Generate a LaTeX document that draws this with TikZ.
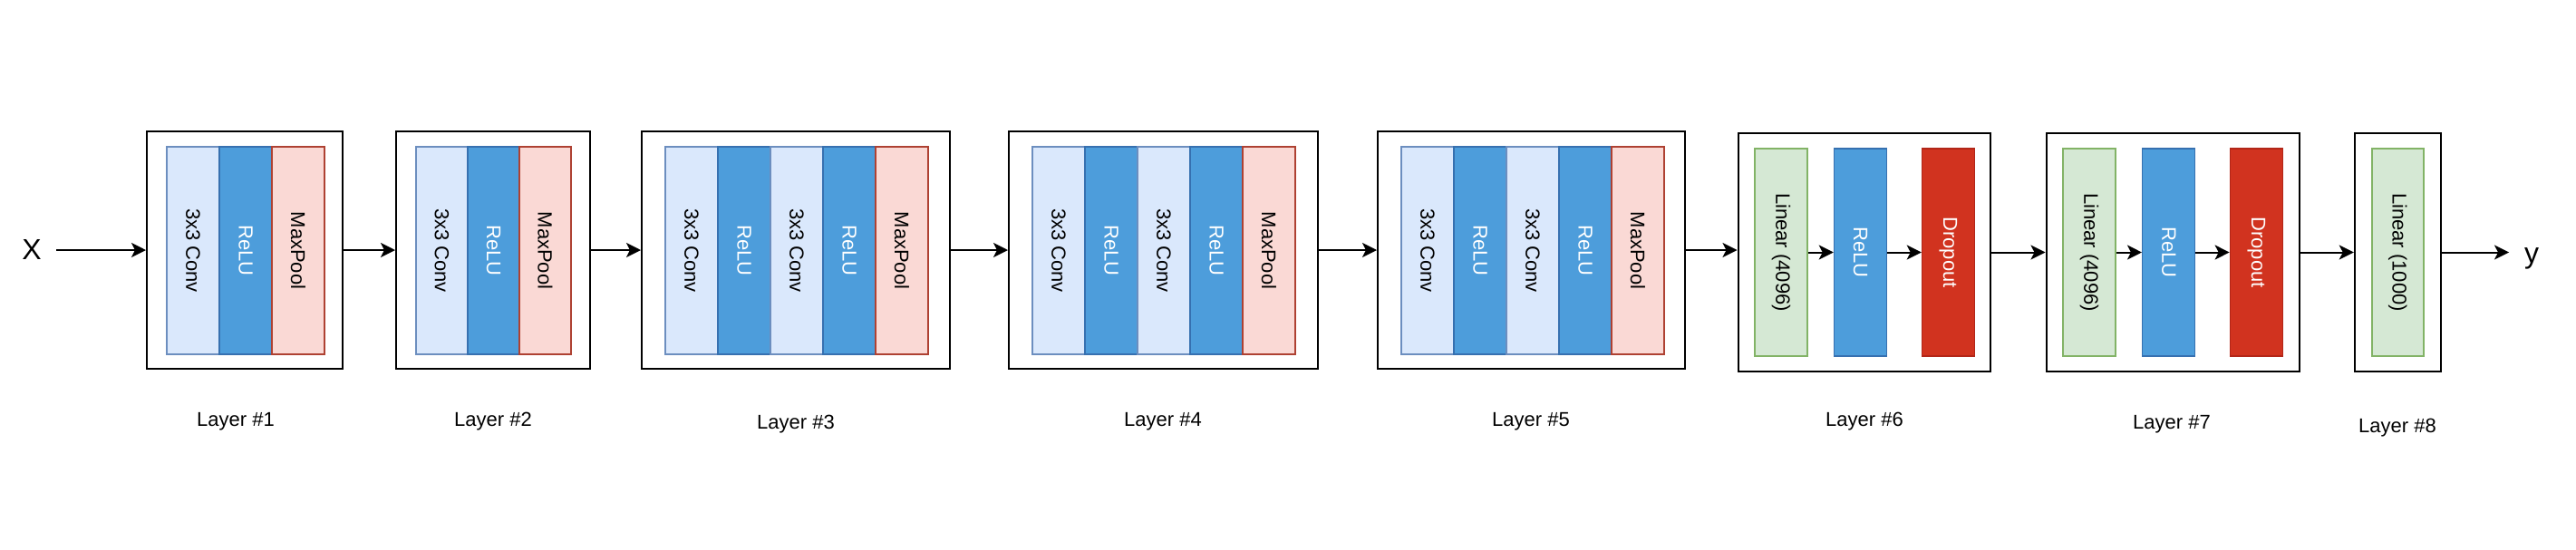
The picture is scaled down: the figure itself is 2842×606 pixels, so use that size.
\documentclass[tikz,border=0pt]{standalone}
\usepackage{fontspec}
\setmainfont{Liberation Sans}
\usetikzlibrary{arrows.meta}
\definecolor{convfill}{HTML}{DAE8FC}
\definecolor{convdraw}{HTML}{6C8EBF}
\definecolor{relufill}{HTML}{4D9DDB}
\definecolor{reludraw}{HTML}{3670B0}
\definecolor{poolfill}{HTML}{FAD9D5}
\definecolor{pooldraw}{HTML}{AE4132}
\definecolor{linfill}{HTML}{D5E8D4}
\definecolor{lindraw}{HTML}{82B366}
\definecolor{dropfill}{HTML}{D1331F}
\definecolor{dropdraw}{HTML}{B22618}
\begin{document}
\begin{tikzpicture}[x=1pt,y=-1pt,
  box/.style={draw=black, line width=2pt, fill=white, minimum width=#1, minimum height=262pt, inner sep=0pt},
  strip/.style={rotate=-90, minimum width=229pt, minimum height=58pt, inner sep=0pt, line width=1.5pt, font=\fontsize{22}{26}\selectfont},
  conv/.style={strip, fill=convfill, draw=convdraw},
  relu/.style={strip, fill=relufill, draw=reludraw, text=white},
  pool/.style={strip, fill=poolfill, draw=pooldraw},
  lin/.style={strip, fill=linfill, draw=lindraw},
  drop/.style={strip, fill=dropfill, draw=dropdraw, text=white},
  lbl/.style={font=\fontsize{22}{26}\selectfont, inner sep=0pt},
  io/.style={font=\fontsize{32}{38}\selectfont, inner sep=0pt},
  arr/.style={line width=2pt, -{Stealth[length=16pt, width=16pt, inset=4pt]}}
]
\path[fill=white] (0,0) rectangle (2842,606);

% Layer 1
\node[box=216pt] (L1) at (270,276) {};
\node[conv] (l1a) at (213,276.5) {3x3 Conv};
\node[relu] (l1b) at (271,276.5) {ReLU};
\node[pool] (l1c) at (329,276.5) {MaxPool};
\node[lbl] (t1) at (260,465) {Layer \#1};

% Layer 2
\node[box=214pt] (L2) at (544,276) {};
\node[conv, minimum height=57pt] (l2a) at (487.5,276.5) {3x3 Conv};
\node[relu, minimum height=57pt] (l2b) at (544.5,276.5) {ReLU};
\node[pool, minimum height=57pt] (l2c) at (601.5,276.5) {MaxPool};
\node[lbl] (t2) at (544,465) {Layer \#2};

% Layer 3
\node[box=340pt] (L3) at (878,276) {};
\node[conv] (l3a) at (763,276.5) {3x3 Conv};
\node[relu] (l3b) at (821,276.5) {ReLU};
\node[conv] (l3c) at (879,276.5) {3x3 Conv};
\node[relu] (l3d) at (937,276.5) {ReLU};
\node[pool] (l3e) at (995,276.5) {MaxPool};
\node[lbl] (t3) at (878,468) {Layer \#3};

% Layer 4
\node[box=341pt] (L4) at (1283.5,276) {};
\node[conv] (l4a) at (1168,276.5) {3x3 Conv};
\node[relu] (l4b) at (1226,276.5) {ReLU};
\node[conv] (l4c) at (1284,276.5) {3x3 Conv};
\node[relu] (l4d) at (1342,276.5) {ReLU};
\node[pool] (l4e) at (1400,276.5) {MaxPool};
\node[lbl] (t4) at (1283,465) {Layer \#4};

% Layer 5
\node[box=339pt] (L5) at (1689.5,276) {};
\node[conv] (l5a) at (1575,276.5) {3x3 Conv};
\node[relu] (l5b) at (1633,276.5) {ReLU};
\node[conv] (l5c) at (1691,276.5) {3x3 Conv};
\node[relu] (l5d) at (1749,276.5) {ReLU};
\node[pool] (l5e) at (1807,276.5) {MaxPool};
\node[lbl] (t5) at (1689,465) {Layer \#5};

% Layer 6
\node[box=278.5pt, minimum height=263pt] (L6) at (2056.75,278.5) {};
\node[lin] (l6a) at (1965,278.5) {Linear (4096)};
\node[relu] (l6b) at (2052.5,278.5) {ReLU};
\node[drop] (l6c) at (2149.5,278.5) {Dropout};
\node[lbl] (t6) at (2057,465) {Layer \#6};

% Layer 7
\node[box=279pt, minimum height=263pt] (L7) at (2397,278.5) {};
\node[lin] (l7a) at (2305,278.5) {Linear (4096)};
\node[relu] (l7b) at (2392.7,278.5) {ReLU};
\node[drop] (l7c) at (2489.4,278.5) {Dropout};
\node[lbl] (t7) at (2396,468) {Layer \#7};

% Layer 8
\node[box=95.3pt, minimum height=263pt] (L8) at (2645.4,278.5) {};
\node[lin, minimum height=57.3pt] (l8a) at (2645.4,278.5) {Linear (1000)};
\node[lbl] (t8) at (2645,472) {Layer \#8};

% input / output
\node[io] (X) at (35,275) {X};
\coordinate (xin) at (62,276);
\node[io] (Y) at (2793,285.5) {y};
\coordinate (yout) at (2768,278.5);

% connectors
\draw[arr] (xin) -- (L1.west);
\draw[arr] (L1.east) -- (L2.west);
\draw[arr] (L2.east) -- (L3.west);
\draw[arr] (L3.east) -- (L4.west);
\draw[arr] (L4.east) -- (L5.west);
\draw[arr] (L5.east) -- (L5.east -| L6.west);
\draw[arr] (l6a.north) -- (l6b.south);
\draw[arr] (l6b.north) -- (l6c.south);
\draw[arr] (L6.east) -- (L7.west);
\draw[arr] (l7a.north) -- (l7b.south);
\draw[arr] (l7b.north) -- (l7c.south);
\draw[arr] (L7.east) -- (L8.west);
\draw[arr] (L8.east) -- (yout);
\end{tikzpicture}
\end{document}
